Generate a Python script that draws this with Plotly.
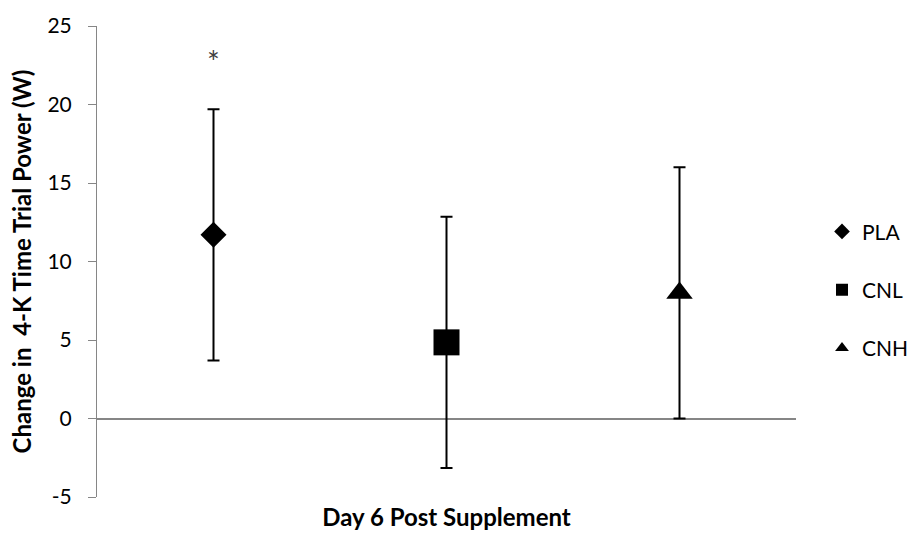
import plotly.graph_objects as go

# Group means and SD for change in 4-K time trial power (W)
groups = ["PLA", "CNL", "CNH"]
positions = [1, 2, 3]
means = [11.7, 4.85, 8.0]
sds = [8.0, 8.0, 8.0]
symbols = ["diamond", "square", "triangle-up"]
marker_sizes = [20, 26, 23]

y_ticks = [-5, 0, 5, 10, 15, 20, 25]
y_tick_text = ["-5", "0", "5", "10", "15", "20", "25"]
sig_marker = "*"
sig_y = 22.7

FONT = "Lato, 'Open Sans', 'DejaVu Sans', sans-serif"
AXIS_GREY = "#868686"

fig = go.Figure()
for i, g in enumerate(groups):
    fig.add_trace(go.Scatter(
        x=[positions[i]], y=[means[i]],
        mode="markers",
        name=g,
        legendgroup=g,
        marker=dict(symbol=symbols[i], size=marker_sizes[i], color="black",
                    line=dict(width=0)),
        error_y=dict(type="data", array=[sds[i]], visible=True,
                     color="black", thickness=2, width=6),
    ))

fig.add_annotation(x=positions[0], y=sig_y, text=sig_marker, showarrow=False,
                   yshift=1,
                   font=dict(family=FONT, size=30, color="#404040"))

fig.update_layout(
    width=909, height=538,
    margin=dict(l=97, r=113, t=18, b=40),
    paper_bgcolor="white", plot_bgcolor="white",
    font=dict(family=FONT, size=20, color="black"),
    showlegend=True,
    legend=dict(xref="container", x=822 / 909, y=0.44,
                xanchor="left", yanchor="middle",
                font=dict(family=FONT, size=21, color="black"),
                itemsizing="constant", traceorder="grouped",
                tracegroupgap=28, bgcolor="rgba(0,0,0,0)"),
    xaxis=dict(range=[0.5, 3.5], showticklabels=False, ticks="",
               showgrid=False, zeroline=False, showline=False,
               title=dict(text="<b>Day 6 Post Supplement</b>", standoff=12,
                          font=dict(family=FONT, size=24, color="black"))),
    yaxis=dict(range=[-5, 25], tickvals=y_ticks, ticktext=y_tick_text,
               ticks="outside", ticklen=8, ticklabelstandoff=12,
               tickcolor=AXIS_GREY, tickwidth=1, showgrid=False,
               showline=True, linecolor=AXIS_GREY, linewidth=1,
               zeroline=True, zerolinecolor=AXIS_GREY, zerolinewidth=1.5,
               tickfont=dict(family=FONT, size=21, color="black"),
               title=dict(text="<b>Change in  4-K Time Trial Power (W)</b>",
                          standoff=9,
                          font=dict(family=FONT, size=24, color="black"))),
)

fig.write_html("out.html")
